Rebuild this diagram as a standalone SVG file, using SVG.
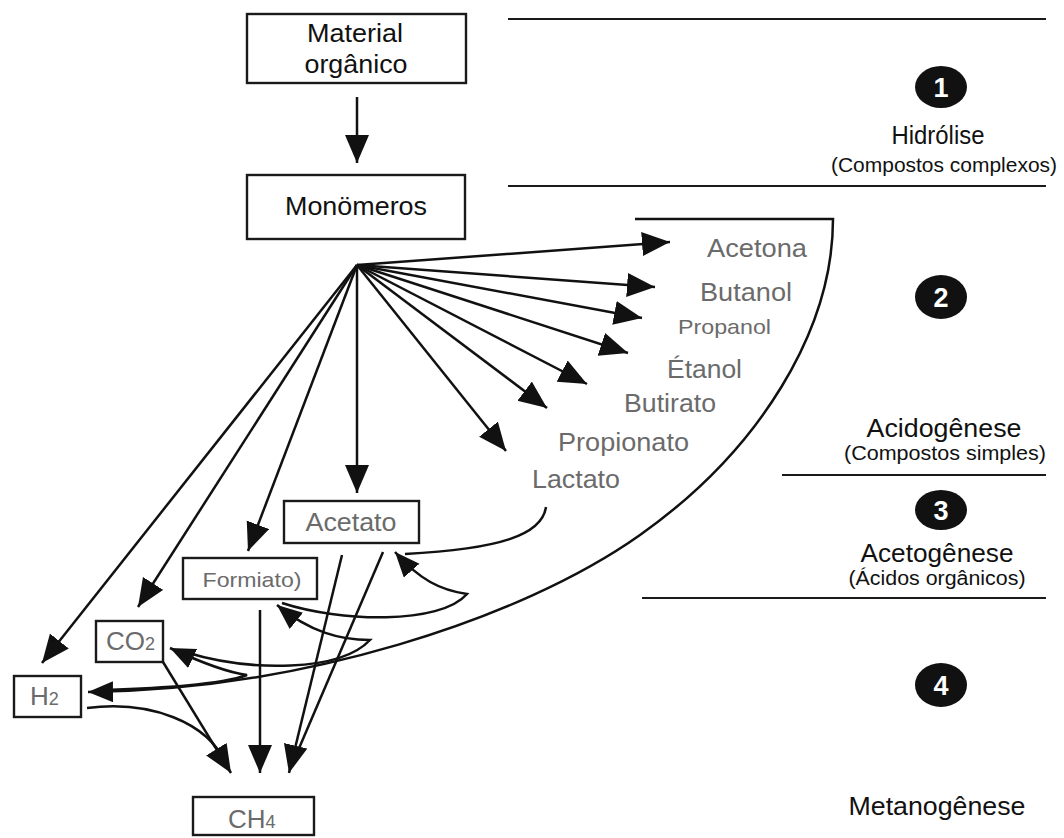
<svg xmlns="http://www.w3.org/2000/svg" width="1064" height="838" viewBox="0 0 1064 838">
<style>
  .bx{fill:#fff;stroke:#1a1a1a;stroke-width:2.4}
  .bk{font-family:"Liberation Sans",Arial,sans-serif;fill:#111;font-size:25px}
  .gr{font-family:"Liberation Sans",Arial,sans-serif;fill:#6b6b6b;font-size:25px}
  .ph{font-family:"Liberation Sans",Arial,sans-serif;fill:#111;font-size:25px}
  .sub{font-family:"Liberation Sans",Arial,sans-serif;fill:#111;font-size:20px}
  .sep{stroke:#1a1a1a;stroke-width:2.2;fill:none}
  .ln{stroke:#111;stroke-width:2.5;fill:none}
  .ar{stroke:#111;stroke-width:2.5;fill:none;marker-end:url(#ah)}
  .arh{stroke:#111;stroke-width:2.5;fill:none;marker-end:url(#ahs)}
  .badge{fill:#111}
  .num{font-family:"Liberation Sans",Arial,sans-serif;fill:#fff;font-size:27px;font-weight:bold}
</style>
<defs>
  <marker id="ah" markerUnits="userSpaceOnUse" markerWidth="29" markerHeight="25" refX="28" refY="12" orient="auto">
    <path d="M0,0 L28,12 L0,24 Z" fill="#111"/>
  </marker>
  <marker id="ahs" markerUnits="userSpaceOnUse" markerWidth="26" markerHeight="22" refX="25" refY="10.5" orient="auto">
    <path d="M0,0 L25,10.5 L0,21 Z" fill="#111"/>
  </marker>
</defs>
<rect width="1064" height="838" fill="#fff"/>

<g id="phases">
  <line class="sep" x1="508" y1="19" x2="1046" y2="19"/>
  <line class="sep" x1="508" y1="186" x2="1046" y2="186"/>
  <line class="sep" x1="782" y1="475" x2="1046" y2="475"/>
  <line class="sep" x1="642" y1="598" x2="1046" y2="598"/>
</g>

<g id="phase1">
  <ellipse class="badge" cx="941" cy="87" rx="26" ry="21"/>
  <text class="num" x="941" y="97" text-anchor="middle">1</text>
  <text class="ph" x="938" y="144" text-anchor="middle" textLength="93" lengthAdjust="spacingAndGlyphs">Hidrólise</text>
  <text class="sub" x="944" y="172" text-anchor="middle" textLength="226" lengthAdjust="spacingAndGlyphs">(Compostos complexos)</text>
</g>
<g id="phase2">
  <ellipse class="badge" cx="941" cy="297" rx="26" ry="22"/>
  <text class="num" x="941" y="307" text-anchor="middle">2</text>
  <text class="ph" x="944" y="437" text-anchor="middle" textLength="155" lengthAdjust="spacingAndGlyphs">Acidogênese</text>
  <text class="sub" x="945" y="460" text-anchor="middle" textLength="202" lengthAdjust="spacingAndGlyphs">(Compostos simples)</text>
</g>
<g id="phase3">
  <ellipse class="badge" cx="941" cy="510" rx="26" ry="20"/>
  <text class="num" x="941" y="520" text-anchor="middle">3</text>
  <text class="ph" x="937" y="562" text-anchor="middle" textLength="153" lengthAdjust="spacingAndGlyphs">Acetogênese</text>
  <text class="sub" x="937" y="585" text-anchor="middle" textLength="177" lengthAdjust="spacingAndGlyphs">(Ácidos orgânicos)</text>
</g>
<g id="phase4">
  <ellipse class="badge" cx="941" cy="685" rx="26" ry="22"/>
  <text class="num" x="941" y="695" text-anchor="middle">4</text>
  <text class="ph" x="937" y="815" text-anchor="middle" textLength="177" lengthAdjust="spacingAndGlyphs">Metanogênese</text>
</g>

<g id="material">
  <rect class="bx" x="247" y="14" width="219" height="69"/>
  <text class="bk" x="355" y="42" text-anchor="middle" textLength="96" lengthAdjust="spacingAndGlyphs">Material</text>
  <text class="bk" x="356" y="73" text-anchor="middle" textLength="103" lengthAdjust="spacingAndGlyphs">orgânico</text>
</g>
<g id="monomeros">
  <rect class="bx" x="247" y="175" width="218" height="64"/>
  <text class="bk" x="356" y="215" text-anchor="middle" textLength="142" lengthAdjust="spacingAndGlyphs">Monömeros</text>
</g>

<g id="products">
  <text class="gr" x="707" y="257" textLength="100" lengthAdjust="spacingAndGlyphs">Acetona</text>
  <text class="gr" x="700" y="301" textLength="92" lengthAdjust="spacingAndGlyphs">Butanol</text>
  <text class="gr" x="678" y="334" textLength="93" lengthAdjust="spacingAndGlyphs" style="font-size:21px">Propanol</text>
  <text class="gr" x="667" y="378" textLength="75" lengthAdjust="spacingAndGlyphs">Étanol</text>
  <text class="gr" x="624" y="412" textLength="92" lengthAdjust="spacingAndGlyphs">Butirato</text>
  <text class="gr" x="558" y="451" textLength="131" lengthAdjust="spacingAndGlyphs">Propionato</text>
  <text class="gr" x="532" y="488" textLength="88" lengthAdjust="spacingAndGlyphs">Lactato</text>
</g>

<g id="acetato">
  <rect class="bx" x="284" y="501" width="135" height="42"/>
  <text class="gr" x="351" y="531" text-anchor="middle" textLength="91" lengthAdjust="spacingAndGlyphs">Acetato</text>
</g>
<g id="formiato">
  <rect class="bx" x="183" y="558" width="134" height="41"/>
  <text class="gr" x="252" y="587" text-anchor="middle" textLength="99" lengthAdjust="spacingAndGlyphs" style="font-size:21px">Formiato)</text>
</g>
<g id="co2">
  <rect class="bx" x="96" y="621" width="67" height="41"/>
  <text class="gr" x="106" y="650" style="font-size:26px">CO<tspan style="font-size:18px">2</tspan></text>
</g>
<g id="h2">
  <rect class="bx" x="14" y="676" width="67" height="41"/>
  <text class="gr" x="30" y="705" style="font-size:26px">H<tspan style="font-size:18px">2</tspan></text>
</g>
<g id="ch4">
  <rect class="bx" x="193" y="797" width="121" height="38"/>
  <text class="gr" x="228" y="828" style="font-size:26px">CH<tspan style="font-size:18px">4</tspan></text>
</g>

<g id="connectors">
  <line class="ar" x1="357" y1="97" x2="357" y2="163"/>
  <!-- fan -->
  <line class="ar" x1="357" y1="265" x2="670" y2="242"/>
  <line class="ar" x1="357" y1="265" x2="655" y2="287"/>
  <line class="ar" x1="357" y1="265" x2="642" y2="318"/>
  <line class="ar" x1="357" y1="265" x2="628" y2="353"/>
  <line class="ar" x1="357" y1="265" x2="587" y2="384"/>
  <line class="ar" x1="357" y1="265" x2="547" y2="408"/>
  <line class="ar" x1="357" y1="265" x2="506" y2="451"/>
  <line class="ar" x1="357" y1="265" x2="357" y2="493"/>
  <line class="ar" x1="357" y1="265" x2="248" y2="551"/>
  <line class="ar" x1="357" y1="265" x2="138" y2="607"/>
  <line class="ar" x1="357" y1="265" x2="42" y2="663"/>
  <!-- big arc -->
  <path class="arh" d="M635,219 H833 C833,330 760,450 640,535 C520,620 300,690 88,692"/>
  <!-- lactato to acetato -->
  <path class="ln" d="M546,507 C542,535 500,549 405,554"/>
  <!-- hooks -->
  <path class="arh" d="M282,603 C340,622 440,625 467,594 C440,590 420,580 395,552"/>
  <path class="arh" d="M185,652 C250,672 340,672 370,640 C340,640 310,632 277,605"/>
  <path class="arh" d="M105,690 C160,688 220,685 247,675 C225,672 200,662 170,648"/>
  <!-- to CH4 -->
  <path class="ln" d="M87,708 C150,700 208,722 226,764"/>
  <line class="ar" x1="163" y1="662" x2="231" y2="773"/>
  <line class="ar" x1="260" y1="610" x2="260" y2="773"/>
  <line class="ar" x1="342" y1="555" x2="289" y2="773"/>
  <line class="ln" x1="383" y1="552" x2="294" y2="760"/>
</g>
</svg>
